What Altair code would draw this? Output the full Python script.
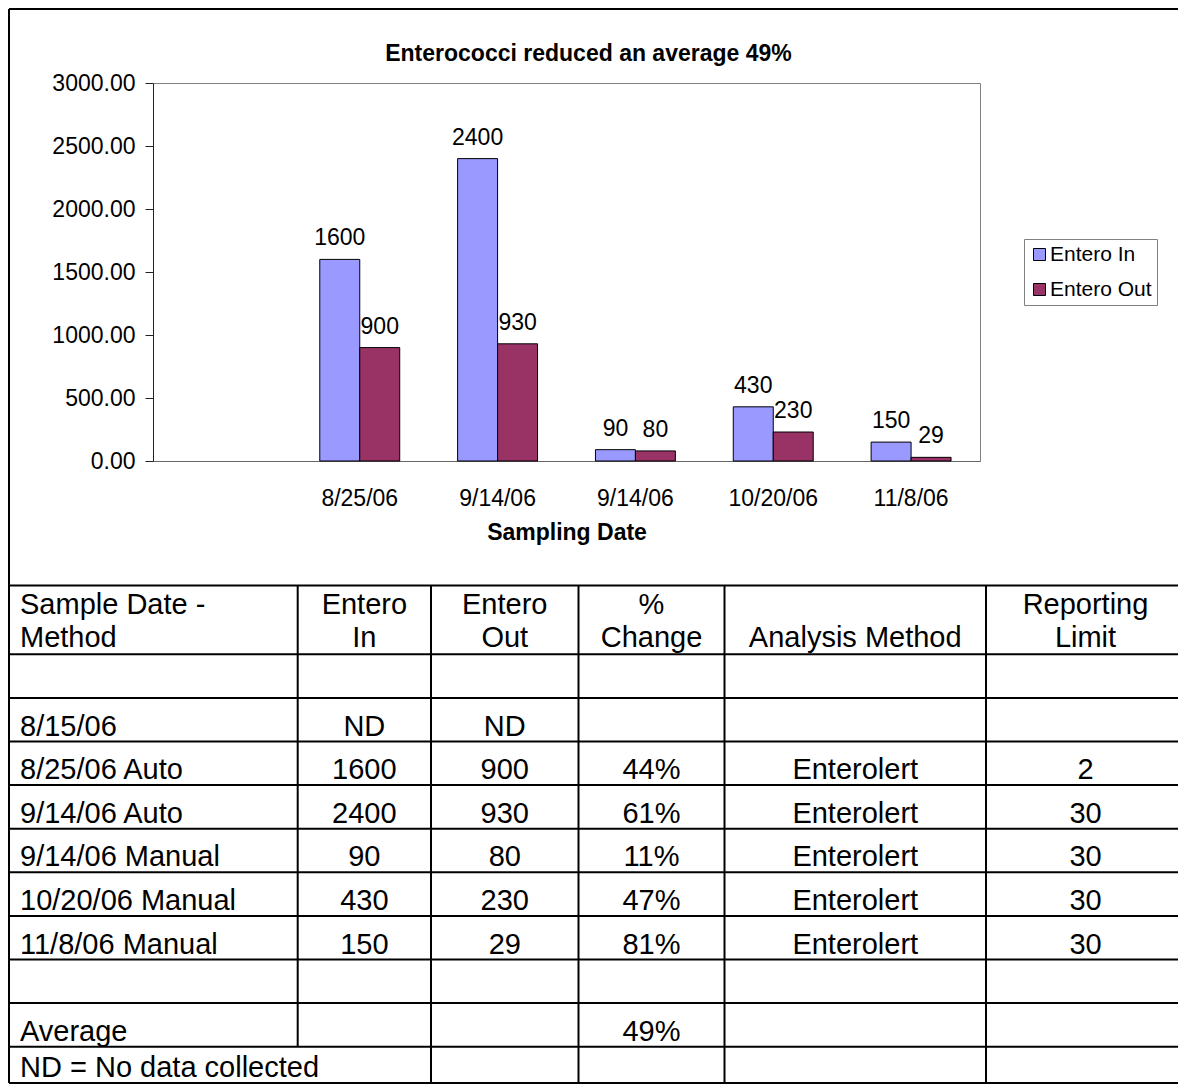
import altair as alt
import pandas as pd

# ---------------- data ----------------
sample_dates = ["8/15/06", "8/25/06", "9/14/06", "9/14/06", "10/20/06", "11/8/06"]
sample_methods = ["", "Auto", "Auto", "Manual", "Manual", "Manual"]
axis_labels = ["", "8/25/06", "9/14/06", "9/14/06", "10/20/06", "11/8/06"]
entero_in = [None, 1600, 2400, 90, 430, 150]
entero_out = [None, 900, 930, 80, 230, 29]
pct_change = [None, 44, 61, 11, 47, 81]
analysis_method = [None, "Enterolert", "Enterolert", "Enterolert", "Enterolert", "Enterolert"]
reporting_limit = [None, 2, 30, 30, 30, 30]
average_change = 49
series_names = ["Entero In", "Entero Out"]
series_colors = ["#9999FF", "#993366"]
y_ticks = [0, 500, 1000, 1500, 2000, 2500, 3000]
title_text = "Enterococci reduced an average 49%"
x_title = "Sampling Date"
header_cells = [["Sample Date -", "Method"], ["Entero", "In"], ["Entero", "Out"],
                ["%", "Change"], ["", "Analysis Method"], ["Reporting", "Limit"]]
nd_entry = "ND"
average_label = "Average"
footnote = "ND = No data collected"

# ---------------- layout constants (pixels) ----------------
W_PLOT, H_PLOT = 827, 378
PAD = {"left": 145, "top": 75, "right": 198, "bottom": 623}
BOX_X0, BOX_Y0 = -144, -74          # outer frame corner relative to plot origin
COL_EDGES = [0, 288.7, 422, 569.5, 715.5, 977, 1176]
TABLE_TOP = 576.5
HEADER_H = 68.8
ROW_H = 43.6
LAST_ROW_H = 36.2
N_BODY = 10
TEXT_PAD = 11
FONT = "Liberation Sans"

BOX_W = COL_EDGES[-1]
row_heights = [ROW_H] * (N_BODY - 1) + [LAST_ROW_H]
row_bottoms = []
_acc = TABLE_TOP + HEADER_H
for h in row_heights:
    _acc += h
    row_bottoms.append(_acc)
BOX_H = row_bottoms[-1]

# ---------------- bar chart ----------------
row_keys = [f"{d} {m}".strip() for d, m in zip(sample_dates, sample_methods)]
bar_rows = []
for k, vi, vo in zip(row_keys, entero_in, entero_out):
    for s, v in zip(series_names, [vi, vo]):
        if v is not None:
            bar_rows.append({"key": k, "series": s, "value": v})
bar_df = pd.DataFrame(bar_rows)

keys_js = "[" + ",".join(f"'{k}'" for k in row_keys) + "]"
labels_js = "[" + ",".join(f"'{k}'" for k in axis_labels) + "]"
label_expr = f"{labels_js}[indexof({keys_js}, datum.value)]"

base = alt.Chart(bar_df).encode(
    x=alt.X("key:N", sort=row_keys,
            scale=alt.Scale(domain=row_keys, paddingInner=0.42, paddingOuter=0.21),
            axis=alt.Axis(labelExpr=label_expr, labelAngle=0, ticks=False, tickSize=0,
                          labelPadding=26, labelFontSize=23, labelColor="black",
                          title=x_title, titleFontSize=23, titleFontWeight="bold",
                          titleColor="black", titlePadding=11, domainColor="#666666",
                          domainWidth=1)),
    xOffset=alt.XOffset("series:N", sort=series_names,
                        scale=alt.Scale(domain=series_names)),
    y=alt.Y("value:Q", scale=alt.Scale(domain=[0, 3000], nice=False),
            axis=alt.Axis(values=y_ticks, format=".2f", labelFontSize=23,
                          labelColor="black", tickSize=8, labelPadding=10,
                          grid=False, domainColor="#222222", tickColor="#222222",
                          title=None)),
)

bars = base.mark_bar(stroke="black", strokeWidth=1).encode(
    color=alt.Color("series:N", sort=series_names,
                    scale=alt.Scale(domain=series_names, range=series_colors),
                    legend=alt.Legend(orient="none", legendX=871, legendY=156,
                                      title=None, symbolType="square", symbolSize=144,
                                      symbolStrokeColor="black", symbolStrokeWidth=1,
                                      labelFontSize=21, labelFont=FONT, labelColor="black",
                                      labelOffset=0, padding=5, rowPadding=13,
                                      strokeColor="#808080", fillColor="white"))
)
value_labels = base.mark_text(dy=-21, fontSize=23, baseline="middle", color="black").encode(
    text=alt.Text("value:Q", format="d")
)
bar_layer = alt.layer(bars, value_labels)

# ---------------- table + frame ----------------
table_rows = [["", "", "", "", "", ""]]
for i in range(len(row_keys)):
    table_rows.append([
        row_keys[i],
        str(entero_in[i]) if entero_in[i] is not None else nd_entry,
        str(entero_out[i]) if entero_out[i] is not None else nd_entry,
        f"{pct_change[i]}%" if pct_change[i] is not None else "",
        analysis_method[i] or "",
        str(reporting_limit[i]) if reporting_limit[i] is not None else "",
    ])
table_rows.append(["", "", "", "", "", ""])
table_rows.append([average_label, "", "", f"{average_change}%", "", ""])
table_rows.append([footnote, "", "", "", "", ""])

header_bottom = TABLE_TOP + HEADER_H

# rules
segs = []
segs.append((0, BOX_W, 0, 0))
segs.append((0, 0, 0, BOX_H))
segs.append((BOX_W, BOX_W, 0, BOX_H))
segs.append((0, BOX_W, TABLE_TOP, TABLE_TOP))
segs.append((0, BOX_W, header_bottom, header_bottom))
for yy in row_bottoms:
    segs.append((0, BOX_W, yy, yy))
for j in range(1, len(COL_EDGES) - 1):
    y_end = row_bottoms[-2] if j == 1 else BOX_H
    segs.append((COL_EDGES[j], COL_EDGES[j], TABLE_TOP, y_end))
rule_df = pd.DataFrame(segs, columns=["x", "x2", "y", "y2"])

# texts
txt_left, txt_center = [], []
for j, lines in enumerate(header_cells):
    for li, t in enumerate(lines):
        if not t:
            continue
        yy = header_bottom - (49.6 if li == 0 else 16.8)
        if j == 0:
            txt_left.append({"x": COL_EDGES[0] + TEXT_PAD, "y": yy, "t": t})
        else:
            txt_center.append({"x": (COL_EDGES[j] + COL_EDGES[j + 1]) / 2, "y": yy, "t": t})
for r, row in enumerate(table_rows):
    yy = row_bottoms[r] - 15
    for j, t in enumerate(row):
        if not t:
            continue
        if j == 0:
            txt_left.append({"x": COL_EDGES[0] + TEXT_PAD, "y": yy, "t": t})
        else:
            txt_center.append({"x": (COL_EDGES[j] + COL_EDGES[j + 1]) / 2, "y": yy, "t": t})

tx_scale = alt.Scale(domain=[0, BOX_W], range=[BOX_X0, BOX_X0 + BOX_W], nice=False, zero=False)
ty_scale = alt.Scale(domain=[0, BOX_H], range=[BOX_Y0, BOX_Y0 + BOX_H], nice=False, zero=False)

rules = alt.Chart(rule_df).mark_rule(color="black", strokeWidth=2).encode(
    x=alt.X("x:Q", scale=tx_scale, axis=None),
    x2="x2:Q",
    y=alt.Y("y:Q", scale=ty_scale, axis=None),
    y2="y2:Q",
)
t_left = alt.Chart(pd.DataFrame(txt_left)).mark_text(
    align="left", baseline="middle", fontSize=29, color="black").encode(
    x=alt.X("x:Q", scale=tx_scale, axis=None),
    y=alt.Y("y:Q", scale=ty_scale, axis=None),
    text="t:N",
)
t_center = alt.Chart(pd.DataFrame(txt_center)).mark_text(
    align="center", baseline="middle", fontSize=29, color="black").encode(
    x=alt.X("x:Q", scale=tx_scale, axis=None),
    y=alt.Y("y:Q", scale=ty_scale, axis=None),
    text="t:N",
)
table_layer = alt.layer(rules, t_left, t_center)

chart = alt.layer(bar_layer, table_layer).resolve_scale(
    x="independent", y="independent"
).properties(
    width=W_PLOT, height=H_PLOT, padding=PAD,
    autosize=alt.AutoSizeParams(type="none"),
    title=alt.Title(title_text, fontSize=23, fontWeight="bold", anchor="middle",
                    baseline="alphabetic", offset=-76, dx=22, color="black", font=FONT),
).configure(font=FONT).configure_view(stroke="#808080", strokeWidth=1)

chart.save("out.html", embed_options={"renderer": "svg", "actions": False})
